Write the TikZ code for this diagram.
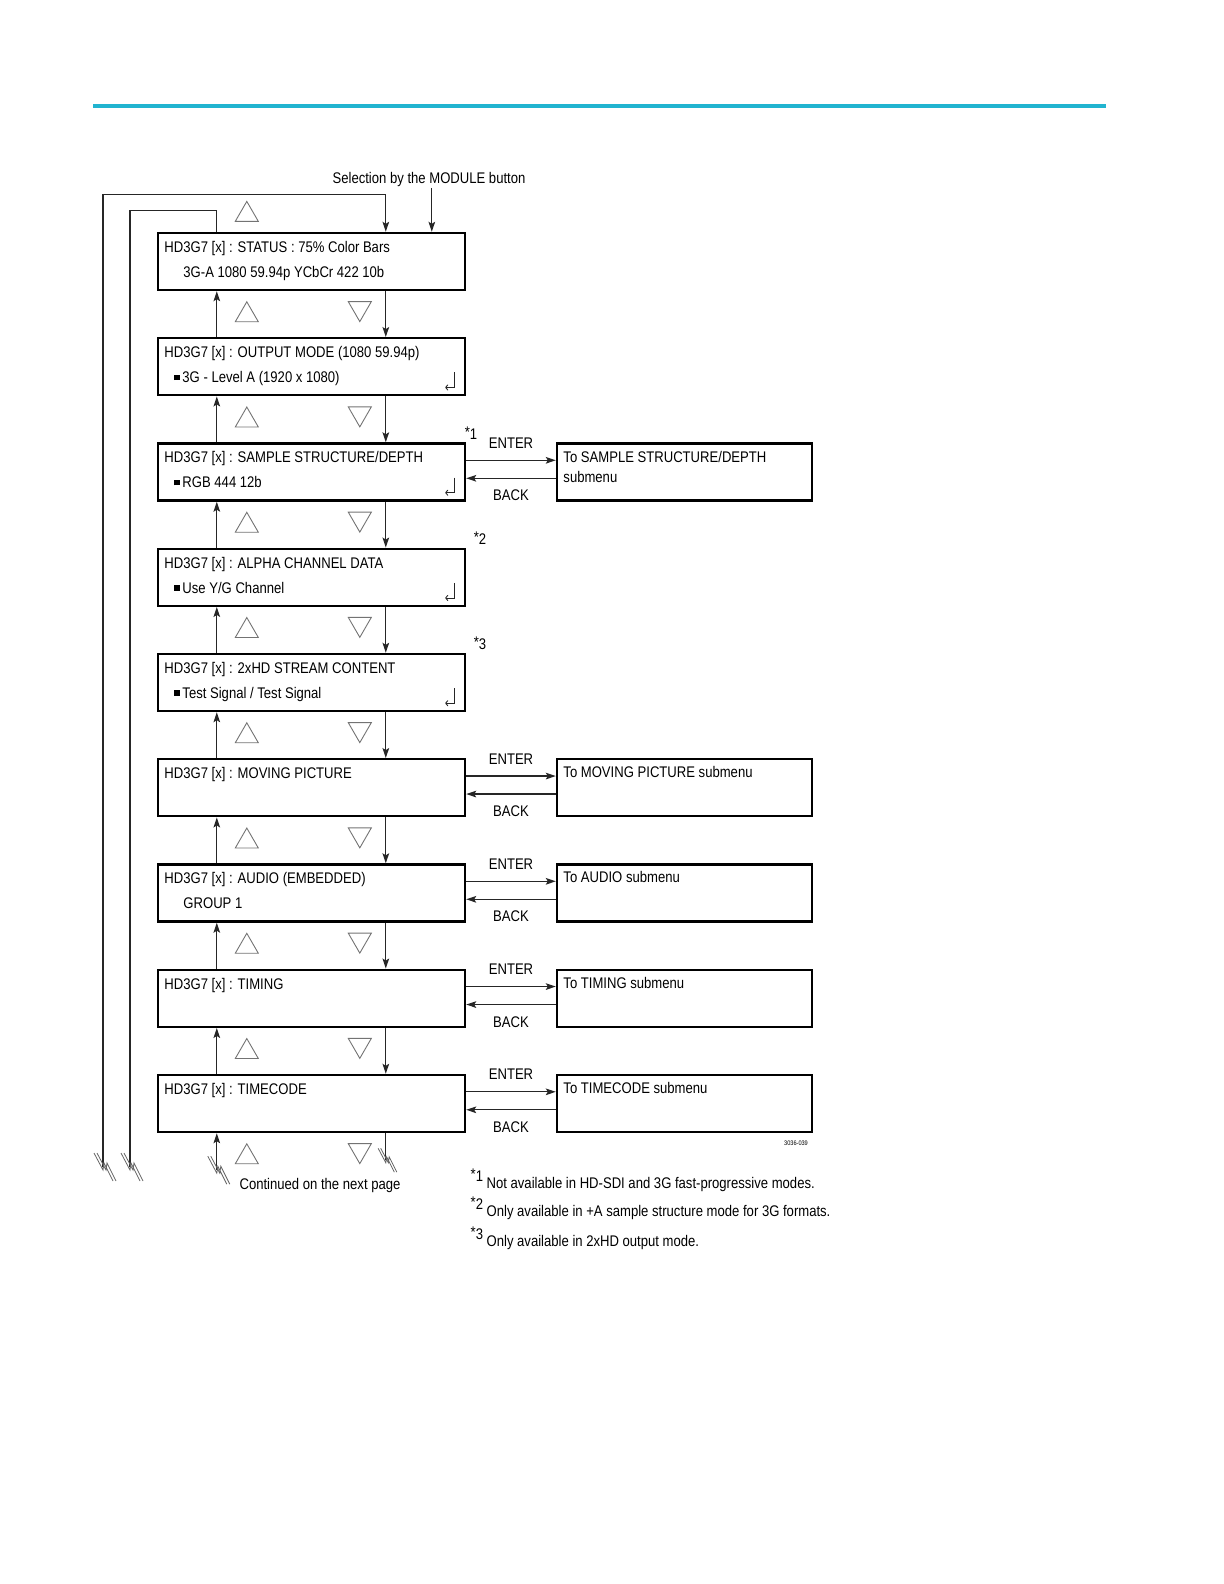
\documentclass[tikz,border=0pt]{standalone}
\usepackage{fontspec}
\setmainfont{Liberation Sans}[FakeStretch=0.85]
\usetikzlibrary{positioning,shapes.geometric,arrows.meta}
\definecolor{rulecyan}{RGB}{33,180,208}
\newcommand\sq{\rule[1.2pt]{2.8pt}{2.8pt}\hspace{1.2pt}}

\begin{document}
\begin{tikzpicture}[x=0.5pt, y=-0.5pt, ->, >={Stealth[length=5pt,width=3.3pt,inset=1pt]}, line width=0.65pt, draw=black!85, node distance=52.625pt,
	menu node/.style={draw=black, line width=1.2pt, minimum width=153.5pt, minimum height=28.5pt, inner sep=0pt},
	sub node/.style={draw=black, line width=1.2pt, minimum width=127.5pt, minimum height=28.5pt, inner sep=0pt},
	txt/.style={inner sep=0pt, anchor=base west, font=\fontsize{7.7}{9}\selectfont},
	lbl/.style={inner sep=0.333em, font=\fontsize{7.7}{9}\selectfont},
	up tri/.style={regular polygon, regular polygon sides=3, draw=black!55, line width=0.45pt, minimum size=13.3pt, inner sep=0pt},
	down tri/.style={up tri, shape border rotate=180},
	ret/.style={-{To[length=1.5pt,width=3pt]}, line width=0.45pt},
	cutmark/.pic={\draw[-, black!60, line width=0.4pt] (-9,-14) -- (0,3) -- (1,-4) -- (10,14) (-6,-14) -- (3,3) -- (4,-4) -- (13,14);}]
	\useasboundingbox (0,0) rectangle (1224,1584);
	\fill[rulecyan] (93,104) rectangle (1106,108.5);

	% menu column
	\node[menu node] (M1) at (311.5,261.5) {};
	\node[menu node] (M2) [below of=M1] {};
	\node[menu node] (M3) [below of=M2] {};
	\node[menu node] (M4) [below of=M3] {};
	\node[menu node] (M5) [below of=M4] {};
	\node[menu node] (M6) [below of=M5] {};
	\node[menu node] (M7) [below of=M6] {};
	\node[menu node] (M8) [below of=M7] {};
	\node[menu node] (M9) [below of=M8] {};

	\node[txt] (T1) at ([shift={(7,20.5)}]M1.north west) {HD3G7 [x] : STATUS : 75\% Color Bars};
	\node[txt] (T1b) at ([shift={(26,45.5)}]M1.north west) {3G-A 1080 59.94p YCbCr 422 10b};
	\node[txt] (T2) at ([shift={(7,20.5)}]M2.north west) {HD3G7 [x] : OUTPUT MODE (1080 59.94p)};
	\node[txt] (T2b) at ([shift={(17,45.5)}]M2.north west) {\sq 3G - Level A (1920 x 1080)};
	\node[txt] (T3) at ([shift={(7,20.5)}]M3.north west) {HD3G7 [x] : SAMPLE STRUCTURE/DEPTH};
	\node[txt] (T3b) at ([shift={(17,45.5)}]M3.north west) {\sq RGB 444 12b};
	\node[txt] (T4) at ([shift={(7,20.5)}]M4.north west) {HD3G7 [x] : ALPHA CHANNEL DATA};
	\node[txt] (T4b) at ([shift={(17,45.5)}]M4.north west) {\sq Use Y/G Channel};
	\node[txt] (T5) at ([shift={(7,20.5)}]M5.north west) {HD3G7 [x] : 2xHD STREAM CONTENT};
	\node[txt] (T5b) at ([shift={(17,45.5)}]M5.north west) {\sq Test Signal / Test Signal};
	\node[txt] (T6) at ([shift={(7,20.5)}]M6.north west) {HD3G7 [x] : MOVING PICTURE};
	\node[txt] (T7) at ([shift={(7,20.5)}]M7.north west) {HD3G7 [x] : AUDIO (EMBEDDED)};
	\node[txt] (T7b) at ([shift={(26,45.5)}]M7.north west) {GROUP 1};
	\node[txt] (T8) at ([shift={(7,20.5)}]M8.north west) {HD3G7 [x] : TIMING};
	\node[txt] (T9) at ([shift={(7,20.5)}]M9.north west) {HD3G7 [x] : TIMECODE};

	\draw[ret] ([shift={(-12,-24)}]M2.south east) |- ([shift={(-21,-9)}]M2.south east);
	\draw[ret] ([shift={(-12,-24)}]M3.south east) |- ([shift={(-21,-9)}]M3.south east);
	\draw[ret] ([shift={(-12,-24)}]M4.south east) |- ([shift={(-21,-9)}]M4.south east);
	\draw[ret] ([shift={(-12,-24)}]M5.south east) |- ([shift={(-21,-9)}]M5.south east);

	\node[lbl, inner sep=0pt] (F1) at (471,433) {\raisebox{1pt}{*}1};
	\node[lbl, inner sep=0pt] (F2) at (480,538) {\raisebox{1pt}{*}2};
	\node[lbl, inner sep=0pt] (F3) at (480,643) {\raisebox{1pt}{*}3};

	% submenus
	\node[sub node] (S3) [right of=M3, node distance=186.5pt] {};
	\node[sub node] (S6) [right of=M6, node distance=186.5pt] {};
	\node[sub node] (S7) [right of=M7, node distance=186.5pt] {};
	\node[sub node] (S8) [right of=M8, node distance=186.5pt] {};
	\node[sub node] (S9) [right of=M9, node distance=186.5pt] {};
	\node[txt] (R3) at ([shift={(7,20.5)}]S3.north west) {To SAMPLE STRUCTURE/DEPTH};
	\node[txt] (R3b) at ([shift={(7,40.5)}]S3.north west) {submenu};
	\node[txt] (R6) at ([shift={(7,19.5)}]S6.north west) {To MOVING PICTURE submenu};
	\node[txt] (R7) at ([shift={(7,19.5)}]S7.north west) {To AUDIO submenu};
	\node[txt] (R8) at ([shift={(7,19.5)}]S8.north west) {To TIMING submenu};
	\node[txt] (R9) at ([shift={(7,19.5)}]S9.north west) {To TIMECODE submenu};

	\path
		([yshift=-9pt]M3.north east) edge node[lbl, above=2.3pt] (E3) {ENTER} ([yshift=-9pt]S3.north west)
		([yshift=-18pt]S3.north west) edge node[lbl, below=2.3pt] (K3) {BACK} ([yshift=-18pt]M3.north east)
		([yshift=-9pt]M6.north east) edge node[lbl, above=2.3pt] (E6) {ENTER} ([yshift=-9pt]S6.north west)
		([yshift=-18pt]S6.north west) edge node[lbl, below=2.3pt] (K6) {BACK} ([yshift=-18pt]M6.north east)
		([yshift=-9pt]M7.north east) edge node[lbl, above=2.3pt] (E7) {ENTER} ([yshift=-9pt]S7.north west)
		([yshift=-18pt]S7.north west) edge node[lbl, below=2.3pt] (K7) {BACK} ([yshift=-18pt]M7.north east)
		([yshift=-9pt]M8.north east) edge node[lbl, above=2.3pt] (E8) {ENTER} ([yshift=-9pt]S8.north west)
		([yshift=-18pt]S8.north west) edge node[lbl, below=2.3pt] (K8) {BACK} ([yshift=-18pt]M8.north east)
		([yshift=-9pt]M9.north east) edge node[lbl, above=2.3pt] (E9) {ENTER} ([yshift=-9pt]S9.north west)
		([yshift=-18pt]S9.north west) edge node[lbl, below=2.3pt] (K9) {BACK} ([yshift=-18pt]M9.north east);

	% up / down moves
	\path
		([xshift=30pt]M2.north west) edge ([xshift=30pt]M1.south west)
		([xshift=114.5pt]M1.south west) edge ([xshift=114.5pt]M2.north west)
		([xshift=30pt]M3.north west) edge ([xshift=30pt]M2.south west)
		([xshift=114.5pt]M2.south west) edge ([xshift=114.5pt]M3.north west)
		([xshift=30pt]M4.north west) edge ([xshift=30pt]M3.south west)
		([xshift=114.5pt]M3.south west) edge ([xshift=114.5pt]M4.north west)
		([xshift=30pt]M5.north west) edge ([xshift=30pt]M4.south west)
		([xshift=114.5pt]M4.south west) edge ([xshift=114.5pt]M5.north west)
		([xshift=30pt]M6.north west) edge ([xshift=30pt]M5.south west)
		([xshift=114.5pt]M5.south west) edge ([xshift=114.5pt]M6.north west)
		([xshift=30pt]M7.north west) edge ([xshift=30pt]M6.south west)
		([xshift=114.5pt]M6.south west) edge ([xshift=114.5pt]M7.north west)
		([xshift=30pt]M8.north west) edge ([xshift=30pt]M7.south west)
		([xshift=114.5pt]M7.south west) edge ([xshift=114.5pt]M8.north west)
		([xshift=30pt]M9.north west) edge ([xshift=30pt]M8.south west)
		([xshift=114.5pt]M8.south west) edge ([xshift=114.5pt]M9.north west);

	\node[up tri, anchor=south] (U0) at ([shift={(90,-10)}]M1.north west) {};
	\node[up tri, anchor=south] (U1) at ([shift={(90,31)}]M1.south west) {};
	\node[down tri, anchor=north] (D1) at ([shift={(203,10)}]M1.south west) {};
	\node[up tri, anchor=south] (U2) at ([shift={(90,31)}]M2.south west) {};
	\node[down tri, anchor=north] (D2) at ([shift={(203,10)}]M2.south west) {};
	\node[up tri, anchor=south] (U3) at ([shift={(90,31)}]M3.south west) {};
	\node[down tri, anchor=north] (D3) at ([shift={(203,10)}]M3.south west) {};
	\node[up tri, anchor=south] (U4) at ([shift={(90,31)}]M4.south west) {};
	\node[down tri, anchor=north] (D4) at ([shift={(203,10)}]M4.south west) {};
	\node[up tri, anchor=south] (U5) at ([shift={(90,31)}]M5.south west) {};
	\node[down tri, anchor=north] (D5) at ([shift={(203,10)}]M5.south west) {};
	\node[up tri, anchor=south] (U6) at ([shift={(90,31)}]M6.south west) {};
	\node[down tri, anchor=north] (D6) at ([shift={(203,10)}]M6.south west) {};
	\node[up tri, anchor=south] (U7) at ([shift={(90,31)}]M7.south west) {};
	\node[down tri, anchor=north] (D7) at ([shift={(203,10)}]M7.south west) {};
	\node[up tri, anchor=south] (U8) at ([shift={(90,31)}]M8.south west) {};
	\node[down tri, anchor=north] (D8) at ([shift={(203,10)}]M8.south west) {};
	\node[up tri, anchor=south] (U9) at ([shift={(90,31)}]M9.south west) {};
	\node[down tri, anchor=north] (D9) at ([shift={(203,10)}]M9.south west) {};

	% entry and loops
	\node[lbl, inner sep=0pt] (Sel) at (429,180) {Selection by the MODULE button};
	\coordinate (Mod) at ([xshift=137.5pt]M1.north west);
	\draw (Sel.south -| Mod) -- (Mod);
	\coordinate (In1) at ([xshift=114.5pt]M1.north west);
	\coordinate (In2) at ([xshift=30pt]M1.north west);
	\coordinate (L1) at (103,1167);
	\coordinate (L2) at (130,1167);
	\draw (L1) |- ([yshift=18.5pt]In1) -- (In1);
	\draw[-] (L2) |- ([yshift=10.5pt]In2) -- (In2);
	\coordinate (B1) at ([shift={(60,37)}]M9.south west);
	\coordinate (B2) at ([shift={(229,27)}]M9.south west);
	\draw (B1) -- ([xshift=30pt]M9.south west);
	\draw[-] ([xshift=114.5pt]M9.south west) -- (B2);
	\pic at (L1) {cutmark};
	\pic at (L2) {cutmark};
	\pic at (B1) {cutmark};
	\pic[scale=0.85] at (B2) {cutmark};
	\node[lbl, inner sep=0pt] (Cont) at (320,1186) {Continued on the next page};
	\node[inner sep=0pt, font=\fontsize{3.3}{4}\selectfont] (Fig) at (796,1143) {3036-039};

	% notes
	\node[txt] (N1) at (470,1188.5) {\raisebox{3.5pt}{\raisebox{1pt}{*}1} Not available in HD-SDI and 3G fast-progressive modes.};
	\node[txt] (N2) at (470,1216.5) {\raisebox{3.5pt}{\raisebox{1pt}{*}2} Only available in +A sample structure mode for 3G formats.};
	\node[txt] (N3) at (470,1246) {\raisebox{3.5pt}{\raisebox{1pt}{*}3} Only available in 2xHD output mode.};
\end{tikzpicture}
\end{document}
